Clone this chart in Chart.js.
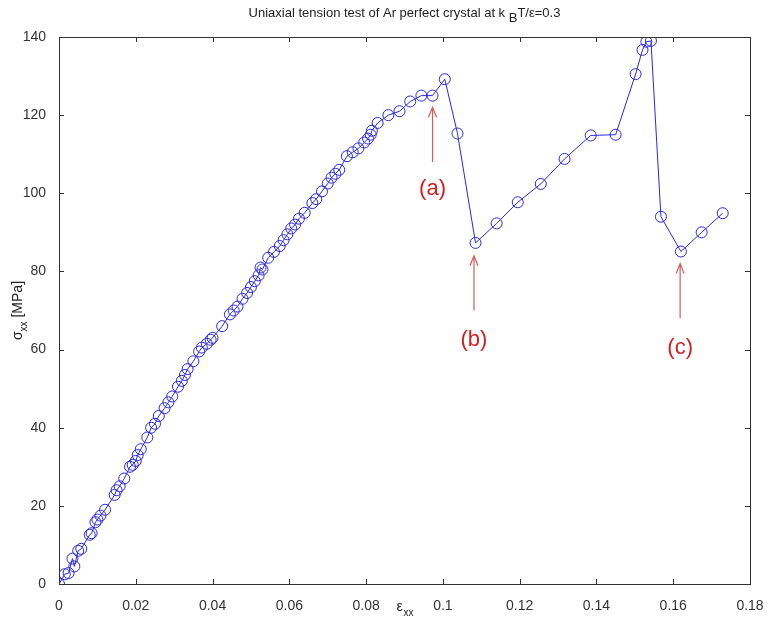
<!DOCTYPE html>
<html>
<head>
<meta charset="utf-8">
<script src="https://cdn.jsdelivr.net/npm/chart.js@4"></script>
<style>
  body { margin: 0; background: #fff; }
  #wrap { width: 767px; height: 628px; }
</style>
</head>
<body>
<div id="wrap"><canvas id="stressChart"></canvas></div>
<script>
// strain (eps_xx) and stress (sigma_xx, MPa)
const strain = [
  0.0000, 0.0015, 0.0025, 0.0035, 0.0040, 0.0050, 0.0058, 0.0080, 0.0085, 0.0095,
  0.0100, 0.0108, 0.0120, 0.0145, 0.0150, 0.0158, 0.0170, 0.0185, 0.0192, 0.0200,
  0.0205, 0.0213, 0.0230, 0.0240, 0.0250, 0.0260, 0.0275, 0.0285, 0.0295, 0.0310,
  0.0320, 0.0328, 0.0335, 0.0350, 0.0365, 0.0372, 0.0385, 0.0395, 0.0400, 0.0425,
  0.0445, 0.0455, 0.0465, 0.0478, 0.0490, 0.0500, 0.0510, 0.0520, 0.0525, 0.0530,
  0.0545, 0.0560, 0.0575, 0.0585, 0.0595, 0.0605, 0.0615, 0.0625, 0.0640, 0.0660,
  0.0670, 0.0685, 0.0700, 0.0710, 0.0720, 0.0730, 0.0750, 0.0765, 0.0780, 0.0795,
  0.0805, 0.0812, 0.0815, 0.0830, 0.0858, 0.0887, 0.0915, 0.0944, 0.0973, 0.1005,
  0.1038, 0.1085, 0.1140, 0.1195, 0.1255, 0.1317, 0.1385, 0.1450, 0.1502, 0.1520,
  0.1530, 0.1542, 0.1568, 0.1620, 0.1674, 0.1729
];
const stress = [
  0.0, 2.5, 2.8, 6.5, 4.5, 8.5, 9.0, 12.6, 13.0, 15.8,
  16.5, 17.5, 19.0, 22.8, 24.0, 25.0, 27.0, 30.0, 30.5, 31.5,
  33.0, 34.5, 37.5, 40.0, 41.0, 43.0, 45.0, 46.5, 48.0, 50.5,
  52.0, 53.5, 55.0, 57.0, 59.5, 60.5, 61.5, 62.5, 63.0, 66.0,
  69.0, 70.0, 71.0, 73.0, 74.5, 76.0, 77.5, 79.0, 81.0, 80.5,
  83.5, 85.0, 86.5, 88.0, 89.5, 91.0, 92.0, 93.5, 95.0, 97.5,
  98.5, 100.5, 102.5, 104.0, 105.0, 106.0, 109.5, 110.5, 111.5, 113.0,
  114.0, 115.0, 116.0, 118.0, 120.0, 121.0, 123.5, 125.0, 125.0, 129.2,
  115.3, 87.3, 92.3, 97.7, 102.4, 108.8, 114.8, 115.0, 130.5, 136.7,
  138.8, 139.0, 94.0, 85.1, 90.0, 94.9
];
const xTicks = [0, 0.02, 0.04, 0.06, 0.08, 0.1, 0.12, 0.14, 0.16, 0.18];
const yTicks = [0, 20, 40, 60, 80, 100, 120, 140];

// arrows: label, strain, stress at tip, stress at tail, stress of label
const markLabels = ['(a)', '(b)', '(c)'];
const markStrain = [0.0973, 0.1081, 0.1618];
const markTip = [122, 84, 82];
const markTail = [108, 70, 68];
const markText = [101, 62.5, 60.5];

const points = strain.map((x, i) => ({ x: x, y: stress[i] }));

const blue = 'rgb(40,40,225)';
const fontFam = '"Liberation Sans", Arial, sans-serif';

// MATLAB-like frame, inward ticks, title, axis labels, arrows
const matlabLook = {
  id: 'matlabLook',
  afterDraw(chart) {
    const c = chart.ctx;
    const a = chart.chartArea;
    const xs = chart.scales.x, ys = chart.scales.y;
    c.save();
    c.strokeStyle = '#333';
    c.lineWidth = 1;
    c.strokeRect(Math.round(a.left) + 0.5, Math.round(a.top) + 0.5,
      Math.round(a.right - a.left), Math.round(a.bottom - a.top));
    c.beginPath();
    xTicks.forEach(t => {
      const px = Math.round(xs.getPixelForValue(t)) + 0.5;
      c.moveTo(px, a.bottom); c.lineTo(px, a.bottom - 5);
      c.moveTo(px, a.top); c.lineTo(px, a.top + 5);
    });
    yTicks.forEach(t => {
      const py = Math.round(ys.getPixelForValue(t)) + 0.5;
      c.moveTo(a.left, py); c.lineTo(a.left + 5, py);
      c.moveTo(a.right, py); c.lineTo(a.right - 5, py);
    });
    c.stroke();

    // title with subscript B
    c.fillStyle = '#222';
    c.textBaseline = 'alphabetic';
    c.font = '13px ' + fontFam;
    const t1 = 'Uniaxial tension test of Ar perfect crystal at k ';
    const t2 = 'B';
    const t3 = 'T/\u03b5=0.3';
    const w1 = c.measureText(t1).width, w2 = c.measureText(t2).width, w3 = c.measureText(t3).width;
    let tx = (a.left + a.right) / 2 - (w1 + w2 + w3) / 2;
    c.textAlign = 'left';
    c.fillText(t1, tx, 17);
    c.fillText(t2, tx + w1, 22);
    c.fillText(t3, tx + w1 + w2, 17);

    // x axis label eps_xx
    c.font = '14px ' + fontFam;
    const xl = (a.left + a.right) / 2;
    c.fillText('\u03b5', xl - 8, 611);
    c.font = '10px ' + fontFam;
    c.fillText('xx', xl - 1, 616);

    // y axis label sigma_xx [MPa]
    c.translate(22, (a.top + a.bottom) / 2);
    c.rotate(-Math.PI / 2);
    const s1 = '\u03c3', s3 = ' [MPa]';
    c.font = '14px ' + fontFam;
    const ws1 = c.measureText(s1).width;
    const ws3 = c.measureText(s3).width;
    c.font = '10px ' + fontFam;
    const ws2 = c.measureText('xx').width;
    let sx = -(ws1 + ws2 + ws3) / 2;
    c.font = '14px ' + fontFam;
    c.fillText(s1, sx, 0);
    c.fillText(s3, sx + ws1 + ws2, 0);
    c.font = '10px ' + fontFam;
    c.fillText('xx', sx + ws1, 5);
    c.restore();

    // red arrows with labels
    c.save();
    markLabels.forEach((lab, i) => {
      const px = xs.getPixelForValue(markStrain[i]);
      const tip = ys.getPixelForValue(markTip[i]);
      const tail = ys.getPixelForValue(markTail[i]);
      c.strokeStyle = 'rgb(215,90,90)';
      c.lineWidth = 1.2;
      c.beginPath();
      c.moveTo(px, tail); c.lineTo(px, tip);
      c.moveTo(px - 4, tip + 10); c.lineTo(px, tip); c.lineTo(px + 4, tip + 10);
      c.stroke();
      c.fillStyle = 'rgb(210,30,30)';
      c.font = '22px ' + fontFam;
      c.textAlign = 'center';
      c.textBaseline = 'middle';
      c.fillText(lab, px, ys.getPixelForValue(markText[i]));
    });
    c.restore();
  }
};

const config = {
  type: 'scatter',
  data: {
    datasets: [{
      data: points,
      showLine: true,
      borderColor: blue,
      borderWidth: 1,
      pointStyle: 'circle',
      pointRadius: 5.5,
      pointBorderWidth: 1,
      pointBorderColor: blue,
      pointBackgroundColor: 'rgba(0,0,0,0)',
      tension: 0
    }]
  },
  options: {
    responsive: true,
    maintainAspectRatio: false,
    animation: false,
    layout: { padding: { top: 37, right: 17, left: 0, bottom: 0 } },
    plugins: { legend: { display: false }, tooltip: { enabled: false } },
    scales: {
      x: {
        type: 'linear', min: 0, max: 0.18,
        afterBuildTicks: s => { s.ticks = xTicks.map(v => ({ value: v })); },
        afterFit: s => { s.height = 44; s.paddingLeft = 0; s.paddingRight = 0; },
        grid: { display: false },
        border: { display: false },
        ticks: {
          color: '#333', padding: 6,
          font: { size: 14, family: fontFam },
          callback: v => String(+v.toFixed(2)),
          maxRotation: 0
        }
      },
      y: {
        type: 'linear', min: 0, max: 140,
        afterBuildTicks: s => { s.ticks = yTicks.map(v => ({ value: v })); },
        afterFit: s => { s.width = 59; s.paddingTop = 0; s.paddingBottom = 0; },
        grid: { display: false },
        border: { display: false },
        ticks: {
          color: '#333', padding: 5,
          font: { size: 14, family: fontFam }
        }
      }
    }
  },
  plugins: [matlabLook]
};

const ctx = document.getElementById('stressChart').getContext('2d');
new Chart(ctx, config);
</script>
</body>
</html>
